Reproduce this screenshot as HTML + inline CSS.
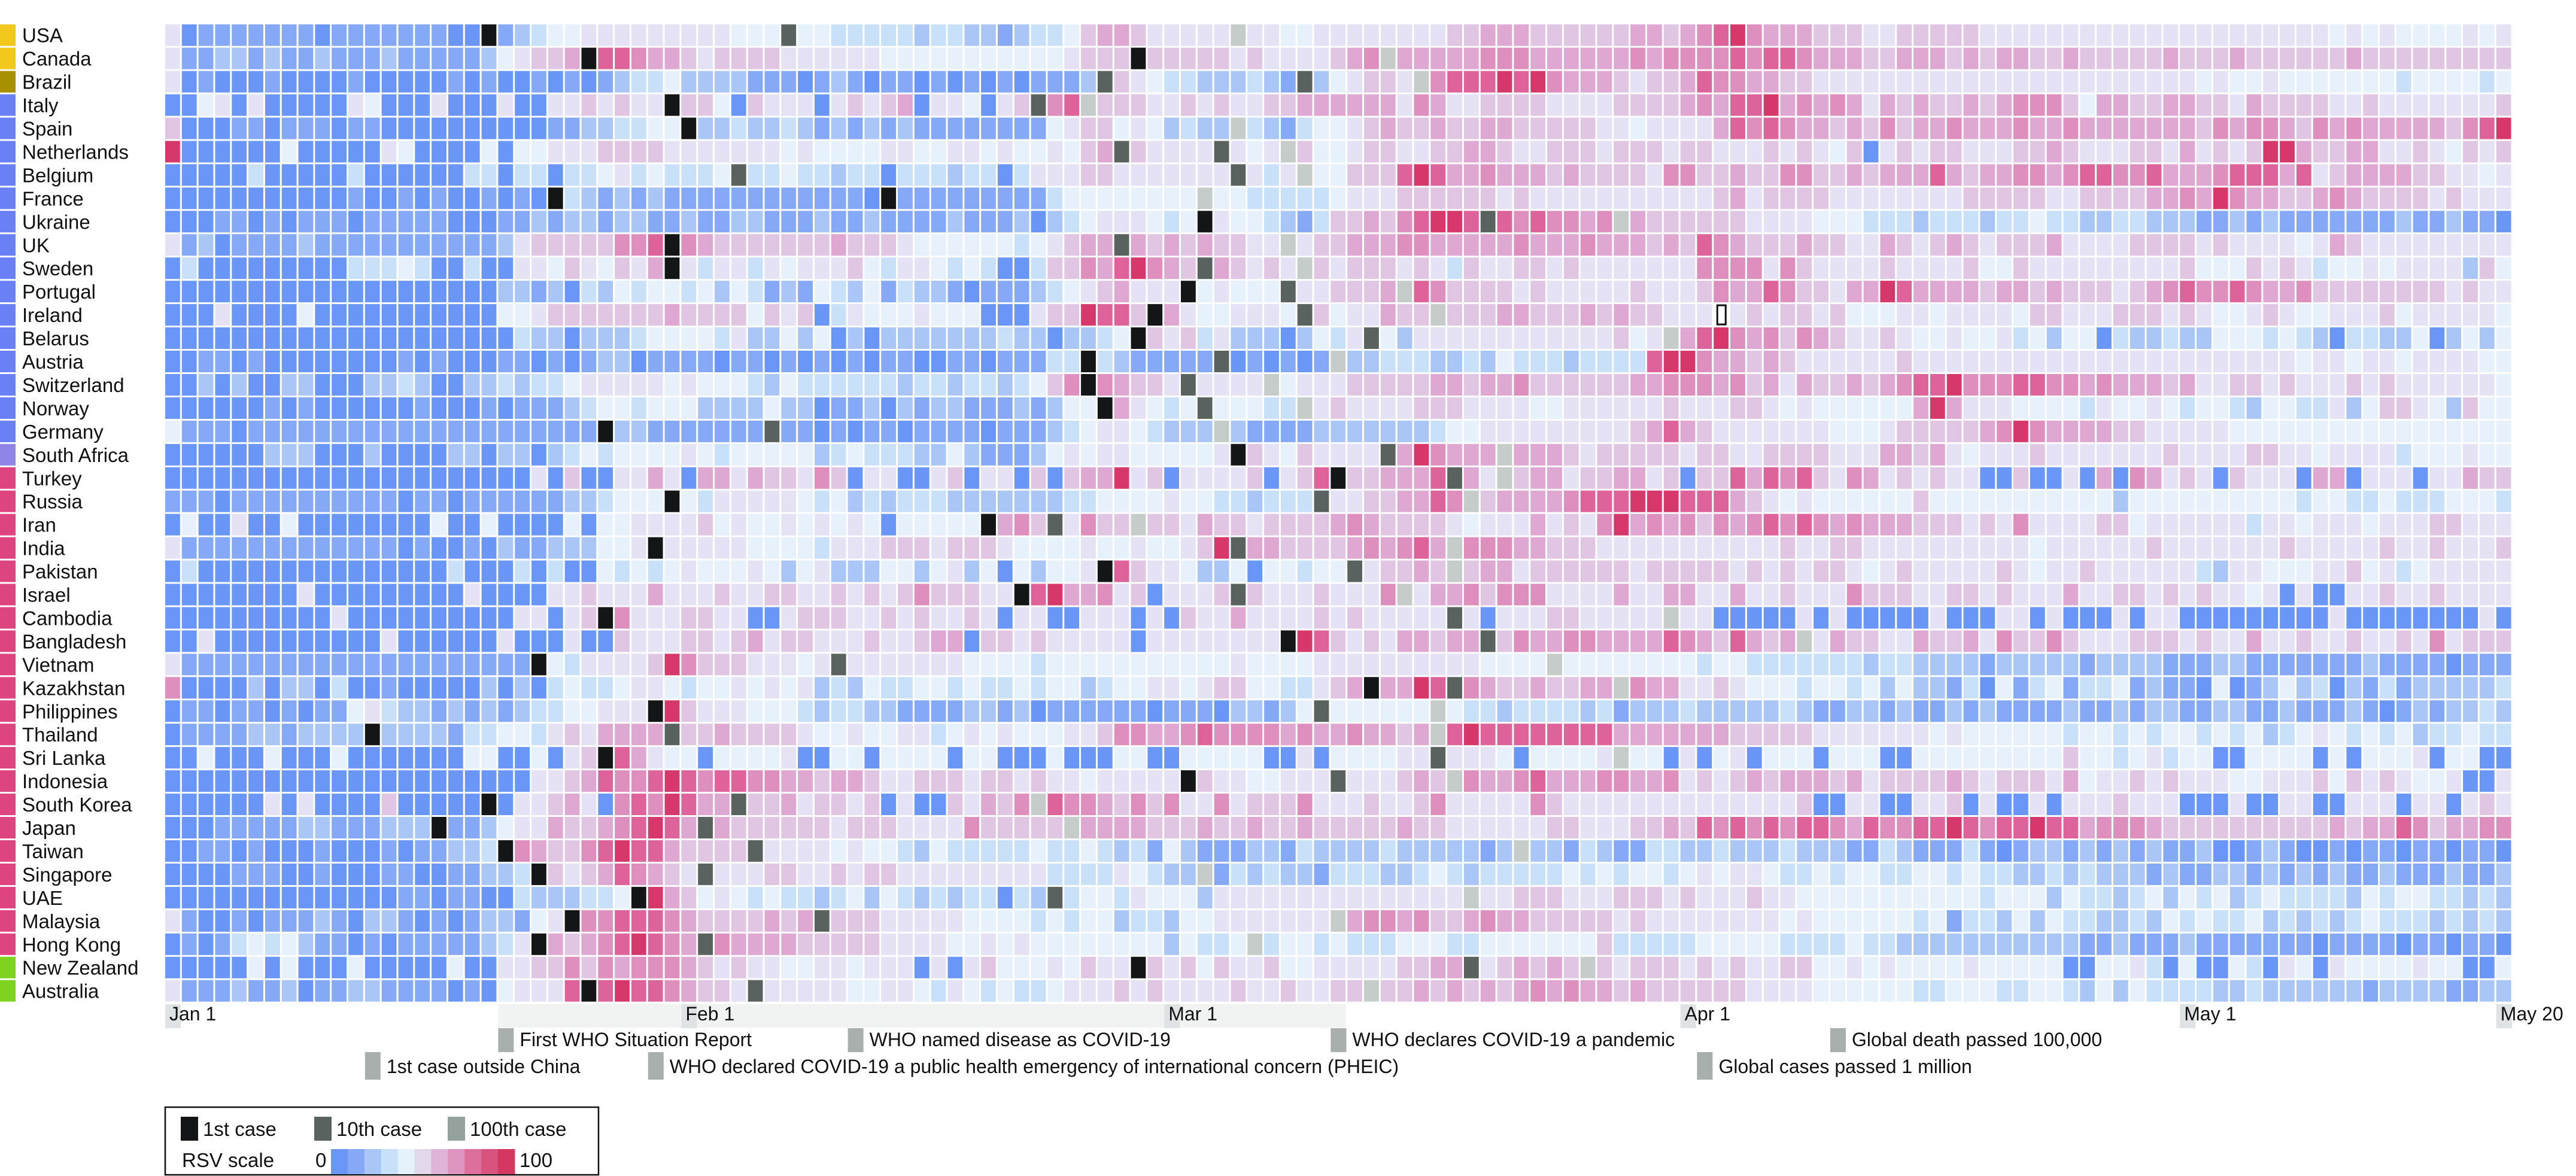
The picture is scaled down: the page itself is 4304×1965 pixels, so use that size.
<!DOCTYPE html>
<html><head><meta charset="utf-8"><title>RSV heatmap</title>
<style>
html,body{margin:0;padding:0;background:#fff;width:4304px;height:1965px;overflow:hidden}
svg{display:block}
text{font-family:"Liberation Sans",Arial,sans-serif;fill:#111}
</style></head>
<body>
<svg id="chart" width="4304" height="1965" viewBox="0 0 4304 1965" xmlns="http://www.w3.org/2000/svg">
<g id="grid"></g>
<g id="labels"></g>
<g id="axis"></g>
<g id="events"></g>
<g id="legend">
  <rect x="276" y="1850" width="724" height="113" fill="#fff" stroke="#111" stroke-width="2.5"/>
  <rect x="302" y="1866" width="29" height="40" fill="#141516"/>
  <text x="339" y="1898" font-size="33">1st case</text>
  <rect x="525" y="1866" width="29" height="40" fill="#59625f"/>
  <text x="562" y="1898" font-size="33">10th case</text>
  <rect x="748" y="1866" width="29" height="40" fill="#95a19c"/>
  <text x="785" y="1898" font-size="33">100th case</text>
  <text x="304" y="1950" font-size="33">RSV scale</text>
  <text x="527" y="1950" font-size="33">0</text>
  <g id="scale"></g>
  <text x="868" y="1950" font-size="33">100</text>
</g>
</svg>
<script>
const countries=["USA","Canada","Brazil","Italy","Spain","Netherlands","Belgium","France","Ukraine","UK","Sweden","Portugal","Ireland","Belarus","Austria","Switzerland","Norway","Germany","South Africa","Turkey","Russia","Iran","India","Pakistan","Israel","Cambodia","Bangladesh","Vietnam","Kazakhstan","Philippines","Thailand","Sri Lanka","Indonesia","South Korea","Japan","Taiwan","Singapore","UAE","Malaysia","Hong Kong","New Zealand","Australia"];
const regions=["na","na","sa","eu","eu","eu","eu","eu","eu","eu","eu","eu","eu","eu","eu","eu","eu","eu","af","as","as","as","as","as","as","as","as","as","as","as","as","as","as","as","as","as","as","as","as","as","oc","oc"];
const dayCount=141;
const tickDays=[0,31,60,91,121,140];
const tickLabels=["Jan 1","Feb 1","Mar 1","Apr 1","May 1","May 20"];
const eventDays=[20,41,70,100,12,29,92];
const eventLabels=["First WHO Situation Report","WHO named disease as COVID-19","WHO declares COVID-19 a pandemic","Global death passed 100,000","1st case outside China","WHO declared COVID-19 a public health emergency of international concern (PHEIC)","Global cases passed 1 million"];
const eventLanes=[0,0,0,0,1,1,1];
const bandStartDay=20, bandEndDay=70;
// RSV level per day: 0-9,A = 0..100 ; X=1st case, Y=10th case, Z=100th case, W=highlighted
const rsvRows=[
["5011111110111111100X12344555555555444Y443333323","32212334677655555"+"Z"+"554455555555"+"66777666666776789","A8777666"+"5566666555555"+"55555555555555"+"545454444545"],
["5"+"112212112111211111"+"245667"+"X"+"998776"+"566665555554444","44444445"+"666"+"X"+"66666565555"+"678"+"Z"+"77777888"+"777777878888","98998777667"+"776767766766666766676666667666666666"],
["5"+"0100010000100000101001010"+"123342222111012101101","010101112"+"Y"+"65433222321"+"Y"+"245665"+"Z"+"8999A9A8"+"7776566798","87766"+"555555555555555555555554544544444443444434"],
["0045050000"+"0540005000"+"5005565655"+"X"+"6640655505656705","54056Y89Z"+"6665565655"+"6677777758"+"7556666555"+"56666787","99A7878757"+"6766767888"+"6477667766"+"5766665565"+"5555556"],
["6"+"0001101110110000000000"+"11223344"+"X"+"223223212121211","1111114566"+"4542322"+"Z"+"3213445676"+"6766776666"+"655455557","9898776768"+"6778777877"+"8777777768"+"7887687877"+"777689A"],
["A"+"000000"+"4"+"00000"+"54"+"0000"+"40"+"44555666655555554544445544","5545445467"+"Y"+"65555"+"Y"+"545"+"Z"+"64456655667765566656665665","5565654605"+"6566555667"+"6555665756"+"56AA766775"+"5654656"],
["0000030000"+"0300000033"+"0330334534"+"3334"+"Y"+"334332330333","2330355566"+"5555555"+"Y"+"535"+"Z"+"446669A977877767666658866","7668866767"+"7797677887"+"8998897778"+"9997956777"+"7665545"],
["0000000000"+"0100101001"+"010"+"X"+"3212121111111111110"+"X"+"111","1111113444"+"44444"+"Z"+"4433333455"+"5666666565"+"55555555556","7566665555"+"5555666665"+"566667787A"+"8776678766"+"6656555"],
["0001101011"+"1011111000"+"1121221221"+"1211221112"+"1121111","2111202345"+"55434"+"X"+"5443213667689AA9"+"Y"+"9898878"+"Z"+"766666","6555544433"+"3233323343"+"3223322211"+"2121111111"+"2112110"],
["5120111121"+"1111111111"+"2566666889"+"X"+"8766666667666544","4444345677"+"Y"+"767676655"+"Z"+"56677788777778777877767698","7666766557"+"6567656667"+"5555666656"+"5555457655"+"5555555"],
["0300000000"+"0333430030"+"0554654657"+"X"+"5355354555643554","3430036687"+"9A876"+"Y"+"76565"+"Z"+"6566656536"+"5566565555"+"55588","8858655556"+"5555644655"+"5555555644"+"4656534454"+"5555264"],
["0000000000"+"0000000000"+"2212032434"+"4342431214"+"3241322","1011123456"+"7555"+"X"+"45444"+"Y"+"556667"+"Z"+"9866665655555655568","779866577A"+"9777767767"+"6665678988"+"9877866666"+"6665655"],
["0005000040"+"0000000000"+"4456666666"+"7666646560"+"3544454","44000566A996"+"X"+"75445554"+"Y"+"6455766"+"Z"+"6667766676766555"+"W","5656656444"+"5545555466"+"5556665654"+"4565445556"+"4555554"],
["0000000000"+"0000000000"+"0322022234"+"4443522424"+"0202222","2223220223"+"4"+"X"+"6563522202435"+"Y"+"42"+"555555555555"+"645"+"Z"+"79A","8786876556"+"5445445342"+"4403223224"+"4434320332"+"2402424"],
["0011010000"+"0000101000"+"1101012201"+"1110110101"+"0101100","11011133"+"X"+"3211111"+"Y"+"010101"+"Z"+"2233322324"+"33323333"+"9AA87","7676555555"+"6555555555"+"5555555555"+"5555455455"+"4555544"],
["0020200220"+"0022320022"+"3233455555"+"4544432433"+"3333233","23323468"+"X"+"87665"+"Y"+"5555"+"Z"+"455566666776778666666778887","8675766767"+"899A888998"+"8787776755"+"6656555656"+"5555554"],
["0000001010"+"0000010001"+"0111234434"+"4422224220"+"1120212","211121244"+"X"+"75434"+"Y"+"44433"+"Z"+"5655556665555445555556555","6654544444"+"47A7555444"+"4354454344"+"3244335246"+"6542644"],
["4111011111"+"1111111111"+"111111"+"X"+"221111111"+"Y"+"1101011011","1101112345"+"543222"+"Z"+"211112222222344555555555679765","5555554445"+"6666678A87"+"7776655555"+"44444444444444444"],
["0000002220"+"0020000220"+"2202343444"+"4543444442"+"3433322","4211124545"+"5444445"+"X"+"65465555"+"Y"+"7A8777"+"Z"+"7776566666566","5566665557"+"7675455565"+"5555556555"+"5665545555"+"3444544"],
["0000000000"+"0000000000"+"0050600557"+"5077576658"+"6055005","6055060677"+"A560555560"+"569"+"X"+"667779"+"Y"+"75"+"Z"+"6775667756066","9798965875"+"6565500600"+"5070875650"+"6555077055"+"5055766"],
["1110111111"+"1111011011"+"1111223444"+"X"+"4355555434232333","2222222334"+"4445443323"+"33"+"Y"+"55667798"+"Z"+"677778999AAA999","7654544444"+"4644444444"+"4442444444"+"4444344334"+"3334443"],
["0400500400"+"0000004004"+"0000404455"+"5564544545"+"4540444","44X786Y5866Z"+"6657665666"+"6787666654"+"55575658A7"+"87868","7898987877"+"7666565855"+"5566455555"+"5355455545"+"5566555"],
["5111111111"+"1111010010"+"211222445"+"X"+"55555444435556665","6665444454"+"454456A"+"Y"+"776666787897"+"Z"+"8887766655555555","5556556655"+"5555555545"+"5555565555"+"5556555556"+"5565556"],
["0300000000"+"0000000300"+"0303004343"+"4544454245"+"2224424","524042445"+"X"+"96554224044344"+"Y"+"56676"+"Z"+"6775666666566666","5656566545"+"6555556545"+"5655555532"+"5544455645"+"3455555"],
["0000000050"+"0000000050"+"0005565557"+"5556556655"+"6565686","6655"+"X"+"9A7785605556"+"Y"+"655565558"+"Z"+"5778688855557557755","7556555866"+"6556656555"+"7556656565"+"5450500556"+"5565555"],
["0000000000"+"5000000000"+"055056"+"X"+"85556655005666556565","5650550055"+"5050655755"+"5565655555"+"Y"+"505556655555"+"Z"+"550","0000505000"+"0050005505"+"0005055000"+"00000050000000050"],
["0050000000"+"0005000000"+"5000500655"+"5665675665"+"5565567","7066565555"+"5055555555"+"X"+"A9656577677"+"Y"+"68778877779876","9767Z57665"+"5766758668"+"6555666565"+"5755655655"+"6585666"],
["5111111111"+"1111111111"+"11"+"X"+"4355556A866655545"+"Y"+"555555","5444434444"+"4444444544"+"4455555555"+"554444"+"Z"+"4444444434","4333333323"+"3222212222"+"2122221112"+"2111111121"+"1110111"],
["8000020220"+"3001000002"+"0203433455"+"4344545452"+"3243344","3433434423"+"4455456644"+"33567"+"X"+"77A9"+"Y"+"876676677"+"Z"+"877556","5444344342"+"4221304134"+"1334121104"+"0124230213"+"1222223"],
["0110110101"+"1453221212"+"123344555"+"X"+"A6555444323322111","1221201111"+"1101110221"+"24"+"Y"+"444444"+"Z"+"43323333231222322","2223211221"+"2112121111"+"2112122112"+"2112111210"+"1212232"],
["0111122122"+"22"+"X"+"2222133443"+"5657777"+"Y"+"6676666544544553","4545444556"+"8877898888"+"787787767"+"Z"+"9A999999997777777","6666655555"+"5545444444"+"3443434434"+"3423454343"+"4233433"],
["0040004000"+"4000000044"+"004056"+"X"+"97544044445004404444","0440004000"+"4400444440"+"050444455"+"Y"+"5554044445"+"Z"+"440504","5044404440"+"0444444444"+"6443453440"+"0444404044"+"4504400"],
["0000000000"+"0000000000"+"0055679889"+"A989988776"+"7765566","6566565545"+"5555"+"X"+"65544555"+"Y"+"555676"+"Z"+"8778977788778565","6767776756"+"6667656665"+"7455656555"+"4455564656"+"5445005"],
["0000005050"+"000600000"+"X"+"0556750898A977"+"Y"+"667566560500","65768"+"Z"+"9887686855"+"8566685556"+"5568555558"+"65555555555","5555600550"+"0556050050"+"5556555000"+"5005500555"+"0550565"],
["0001111122"+"111222"+"X"+"112455766789A97"+"Y"+"76666665666555","5866666"+"Z"+"7777666766"+"7667666667"+"6655555566"+"555667698","9898998798"+"899A9899A9"+"9788876666"+"6666667677"+"9867788"],
["0011010001"+"0001011223"+"X"+"876689A9976666"+"Y"+"55554544324","3333343343"+"2314211122"+"1322223222"+"2212Z22132"+"1133223","2223222113"+"2111310122"+"1212121120"+"0121001011"+"0110110"],
["0000111001"+"0001100112"+"23"+"X"+"656798765"+"Y"+"55566556566555","5555553333"+"54322"+"Z"+"1323221333"+"2234323333"+"34343443454","5543343443"+"3443433223"+"2322212112"+"2121212112"+"1112112"],
["0000000000"+"0000110110"+"03222334"+"X"+"A76454343323424323","233032"+"Y"+"3443544425"+"55555555555555"+"Z"+"556665556665655","5655444444"+"4444434442"+"4332342434"+"2343333243"+"4433232"],
["5100101112"+"1022101012"+"2145"+"X"+"88999876666767"+"Y"+"6665555","5444434344"+"2332445555"+"555"+"Z"+"7887866787766666"+"5655555","5554544444"+"4341332424"+"3322324343"+"3423232343"+"3323232"],
["0101343421"+"1010111112"+"35"+"X"+"76789A987"+"Y"+"87777666665555","4454544444"+"44424334"+"Z"+"3443433344433444444463333344","4443333433"+"2222222222"+"2112111211"+"1111101111"+"0110110"],
["0000040400"+"0400000400"+"5566868788"+"8765655445"+"5455505","0564445465"+"5"+"X"+"6564655644555556677"+"Y"+"567676"+"Z"+"65666565","6556644545"+"4444544444"+"0044530400"+"4305405444"+"4544004"],
["5111211201"+"1221111010"+"45559"+"X"+"9A9987665"+"Y"+"55555445543","5434334555"+"6565555655"+"65566"+"Z"+"667676767878776766666","6555544444"+"4334443344"+"3242433332"+"2322222212"+"2221122"]
];

const NS="http://www.w3.org/2000/svg";
const scaleColors=["#6a96f8","#85a9f6","#a9c6f6","#c8e0f8","#e6f1fb","#e4e2f4","#e1c6e4","#dea8d2","#de8fbe","#dd639a","#d6386b"];
const legendScaleColors=["#6a96f8","#85a9f6","#a9c6f6","#c8e0f8","#e6f2fb","#e2d8ec","#deb4d8","#de95bf","#dd6f9c","#d9537f","#d43760"];
const markerColors={X:"#141516",Y:"#59625f",Z:"#c6ccc9"};
const regionColors={na:"#f2c81c",sa:"#a89000",eu:"#6a80f6",af:"#8f85e6",as:"#de4480",oc:"#7ed321"};
const GX=276, PX=27.82, CW=24.8, GY=40.7, PY=38.95, CH=36;
const xDay=d=>GX+d*PX;
const yRow=r=>GY+r*PY;
function mk(tag,attrs,parent){const e=document.createElementNS(NS,tag);for(const k in attrs)e.setAttribute(k,attrs[k]);parent.appendChild(e);return e;}

const grid=document.getElementById('grid');
rsvRows.forEach((segs,r)=>{
  let s="";
  segs.forEach(seg=>{let t=seg.slice(0,47);while(t.length<47)t+="5";s+=t;});
  for(let d=0;d<dayCount;d++){
    const c=s.charAt(d);
    let fill, stroke=null;
    if(c==="X"||c==="Y"||c==="Z") fill=markerColors[c];
    else if(c==="W"){fill="#ffffff";stroke="#111";}
    else {const v=c==="A"?10:parseInt(c,10);fill=scaleColors[isNaN(v)?5:v];}
    const el=mk('rect',{x:xDay(d).toFixed(2),y:yRow(r).toFixed(2),width:CW,height:CH,fill:fill},grid);
    if(stroke){el.setAttribute('stroke',stroke);el.setAttribute('stroke-width','3');el.setAttribute('x',(xDay(d)+6).toFixed(2));el.setAttribute('width','14');el.setAttribute('y',(yRow(r)+2).toFixed(2));el.setAttribute('height','32');}
    
    
  }
});

const labels=document.getElementById('labels');
countries.forEach((name,r)=>{
  const sw=mk('rect',{x:0,y:yRow(r).toFixed(2),width:26,height:CH,fill:regionColors[regions[r]]},labels);
  
  
  const t=mk('text',{x:37,y:(yRow(r)+30).toFixed(2),'font-size':33},labels);
  t.textContent=name;
  
  
});

const axis=document.getElementById('axis');
const band=mk('rect',{x:xDay(bandStartDay),y:1678,width:xDay(bandEndDay+1)-3-xDay(bandStartDay),height:39,fill:"#f1f3f2"},axis);


tickDays.forEach((d,i)=>{
  const b=mk('rect',{x:xDay(d),y:1678,width:26,height:40,fill:"#dfe3e3"},axis);
  
  
  const t=mk('text',{x:xDay(d)+7,y:1705,'font-size':32},axis);
  t.textContent=tickLabels[i];
  
  
});

const events=document.getElementById('events');
eventDays.forEach((d,i)=>{
  const lane=eventLanes[i];
  const y0=lane===0?1718:1758, h=lane===0?40:46, base=lane===0?1748:1793;
  const m=mk('rect',{x:xDay(d),y:y0,width:26,height:h,fill:"#a8afad"},events);
  
  
  const t=mk('text',{x:xDay(d)+36,y:base,'font-size':32},events);
  t.textContent=eventLabels[i];
  
  
});

const scale=document.getElementById('scale');
legendScaleColors.forEach((c,i)=>{
  const s=mk('rect',{x:(553+i*27.9).toFixed(2),y:1920,width:28.4,height:42,fill:c},scale);
  
  
});
</script>
</body></html>
